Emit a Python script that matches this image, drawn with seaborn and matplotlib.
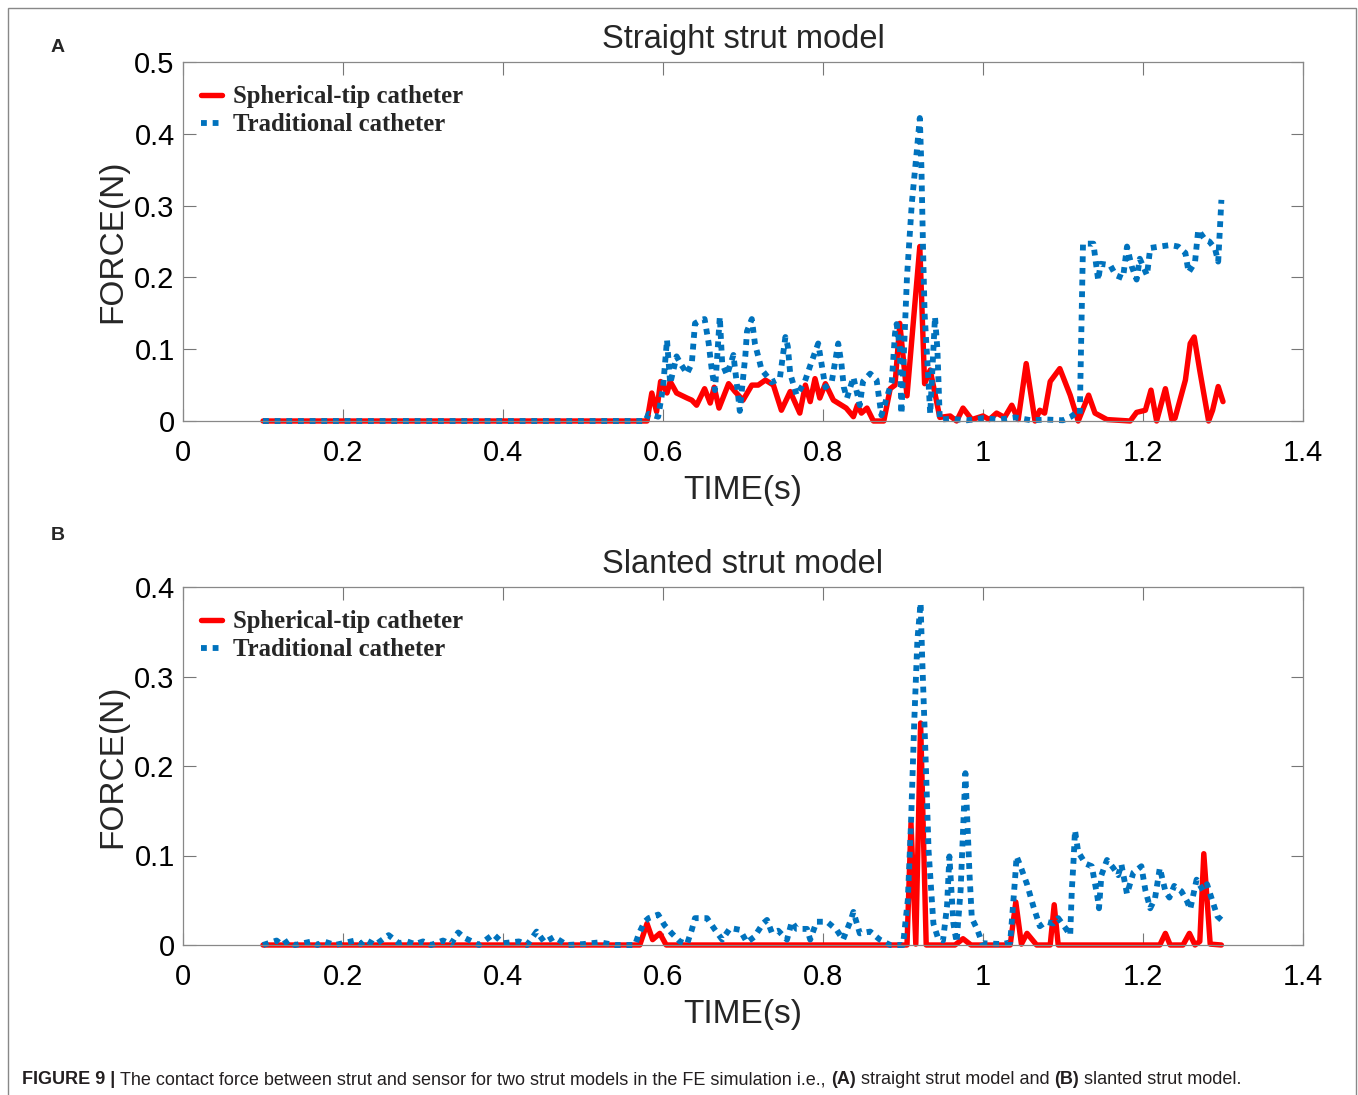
import matplotlib
matplotlib.use("Agg")
import matplotlib.pyplot as plt
from matplotlib.patches import Rectangle
from matplotlib.ticker import FuncFormatter
import seaborn as sns

# ---- data ----
# (A) straight strut model
time_a_sph = [0.10, 0.58, 0.586, 0.592, 0.597, 0.605, 0.609, 0.617, 0.630, 0.636, 0.642, 0.652,
              0.659, 0.664, 0.670, 0.682, 0.690, 0.700, 0.711, 0.719, 0.728, 0.738, 0.748, 0.759,
              0.771, 0.778, 0.784, 0.790, 0.796, 0.803, 0.813, 0.829, 0.838, 0.843, 0.848, 0.855,
              0.863, 0.876, 0.884, 0.890, 0.896, 0.905, 0.921, 0.927, 0.934, 0.946, 0.959, 0.967,
              0.975, 0.986, 1.000, 1.008, 1.017, 1.027, 1.036, 1.044, 1.054, 1.065, 1.071, 1.077,
              1.084, 1.096, 1.109, 1.119, 1.132, 1.140, 1.155, 1.184, 1.192, 1.203, 1.210, 1.217,
              1.228, 1.236, 1.240, 1.253, 1.259, 1.264, 1.271, 1.282, 1.287, 1.294, 1.300]
force_a_sph = [0, 0, 0.039, 0.013, 0.055, 0.039, 0.055, 0.039, 0.032, 0.029, 0.022, 0.045,
               0.025, 0.047, 0.018, 0.052, 0.041, 0.029, 0.050, 0.050, 0.057, 0.050, 0.015, 0.041,
               0.011, 0.050, 0.027, 0.059, 0.032, 0.052, 0.029, 0.018, 0.006, 0.022, 0.011, 0.018,
               0.0, 0.0, 0.045, 0.050, 0.136, 0.035, 0.243, 0.052, 0.071, 0.005, 0.007, 0.0,
               0.018, 0.002, 0.007, 0.002, 0.011, 0.005, 0.022, 0.002, 0.080, 0.0, 0.015, 0.011,
               0.055, 0.073, 0.036, 0.0, 0.036, 0.011, 0.002, 0.0, 0.012, 0.015, 0.043, 0.0,
               0.045, 0.002, 0.004, 0.057, 0.108, 0.117, 0.070, 0.0, 0.015, 0.048, 0.027]

time_a_trad = [0.10, 0.578, 0.582, 0.594, 0.600, 0.605, 0.609, 0.617, 0.623, 0.630, 0.636, 0.640,
               0.648, 0.652, 0.657, 0.661, 0.665, 0.671, 0.674, 0.680, 0.688, 0.693, 0.696, 0.703,
               0.705, 0.711, 0.715, 0.720, 0.723, 0.736, 0.746, 0.753, 0.756, 0.759, 0.767, 0.777,
               0.784, 0.794, 0.803, 0.811, 0.819, 0.823, 0.826, 0.830, 0.838, 0.846, 0.850, 0.859,
               0.867, 0.873, 0.886, 0.890, 0.892, 0.896, 0.898, 0.905, 0.911, 0.917, 0.921, 0.923,
               0.925, 0.927, 0.932, 0.934, 0.940, 0.943, 0.946, 0.960, 0.980, 1.000, 1.020, 1.040,
               1.060, 1.080, 1.100, 1.110, 1.117, 1.121, 1.125, 1.138, 1.144, 1.147, 1.159, 1.166,
               1.175, 1.180, 1.186, 1.192, 1.196, 1.205, 1.209, 1.221, 1.234, 1.244, 1.253, 1.257,
               1.265, 1.269, 1.278, 1.283, 1.290, 1.294, 1.298]
force_a_trad = [0, 0, 0.010, 0.006, 0.046, 0.113, 0.052, 0.090, 0.078, 0.066, 0.080, 0.136,
                0.141, 0.142, 0.109, 0.071, 0.043, 0.145, 0.080, 0.064, 0.092, 0.045, 0.014, 0.092,
                0.125, 0.142, 0.107, 0.086, 0.072, 0.054, 0.059, 0.117, 0.104, 0.066, 0.036, 0.054,
                0.077, 0.108, 0.047, 0.055, 0.108, 0.080, 0.047, 0.032, 0.061, 0.022, 0.055, 0.066,
                0.057, 0.008, 0.055, 0.122, 0.135, 0.104, 0.010, 0.201, 0.303, 0.373, 0.422, 0.354,
                0.243, 0.150, 0.052, 0.010, 0.145, 0.100, 0.002, 0.003, 0.001, 0.004, 0.002, 0.005,
                0.001, 0.002, 0.001, 0.006, 0.012, 0.010, 0.247, 0.247, 0.196, 0.219, 0.217, 0.203,
                0.199, 0.243, 0.215, 0.197, 0.226, 0.203, 0.241, 0.243, 0.245, 0.243, 0.234, 0.207,
                0.221, 0.266, 0.252, 0.250, 0.240, 0.222, 0.308]

# (B) slanted strut model
time_b_sph = [0.10, 0.571, 0.580, 0.587, 0.596, 0.604, 0.905, 0.910, 0.916, 0.922, 0.929, 0.965,
              0.975, 0.985, 1.034, 1.041, 1.048, 1.055, 1.067, 1.084, 1.089, 1.094, 1.221, 1.228,
              1.234, 1.250, 1.258, 1.265, 1.271, 1.276, 1.284, 1.298]
force_b_sph = [0, 0, 0.024, 0.006, 0.013, 0, 0, 0.136, 0.001, 0.248, 0, 0,
               0.007, 0, 0, 0.048, 0.001, 0.013, 0, 0, 0.045, 0, 0, 0.013,
               0, 0, 0.013, 0, 0.004, 0.102, 0.001, 0]

time_b_trad = [0.100, 0.117, 0.124, 0.132, 0.140, 0.161, 0.168, 0.176, 0.190, 0.215, 0.222, 0.228,
               0.240, 0.257, 0.270, 0.280, 0.290, 0.300, 0.310, 0.325, 0.335, 0.344, 0.352, 0.370,
               0.388, 0.400, 0.420, 0.430, 0.442, 0.452, 0.464, 0.480, 0.500, 0.521, 0.540, 0.565,
               0.570, 0.577, 0.582, 0.594, 0.602, 0.611, 0.621, 0.630, 0.636, 0.640, 0.655, 0.665,
               0.674, 0.684, 0.696, 0.705, 0.714, 0.725, 0.730, 0.736, 0.744, 0.755, 0.761, 0.767,
               0.780, 0.784, 0.792, 0.805, 0.817, 0.825, 0.834, 0.838, 0.846, 0.859, 0.871, 0.884,
               0.900, 0.906, 0.910, 0.914, 0.918, 0.922, 0.924, 0.928, 0.932, 0.938, 0.944, 0.950,
               0.955, 0.958, 0.963, 0.967, 0.972, 0.978, 0.983, 0.986, 0.993, 0.999, 1.025, 1.034,
               1.040, 1.042, 1.046, 1.055, 1.063, 1.071, 1.079, 1.088, 1.094, 1.103, 1.109, 1.111,
               1.113, 1.115, 1.119, 1.128, 1.136, 1.143, 1.145, 1.148, 1.155, 1.163, 1.169, 1.173,
               1.180, 1.188, 1.198, 1.203, 1.209, 1.215, 1.221, 1.228, 1.233, 1.239, 1.248, 1.255,
               1.259, 1.267, 1.275, 1.280, 1.285, 1.293, 1.298]
force_b_trad = [0, 0.005, 0.0, 0.005, 0, 0.004, 0, 0.004, 0, 0.005, 0.001, 0.006,
                0, 0.011, 0.002, 0.004, 0.001, 0.004, 0.0, 0.005, 0.001, 0.014, 0.008, 0.0,
                0.012, 0.002, 0.004, 0.0, 0.015, 0.003, 0.009, 0, 0.001, 0.003, 0, 0,
                0.013, 0.026, 0.030, 0.034, 0.022, 0.013, 0.004, 0.001, 0.017, 0.030, 0.030, 0.017,
                0.006, 0.019, 0.017, 0.003, 0.009, 0.024, 0.028, 0.014, 0.016, 0.006, 0.026, 0.018,
                0.018, 0.006, 0.026, 0.026, 0.017, 0.006, 0.026, 0.037, 0.013, 0.015, 0.006, 0,
                0, 0.050, 0.136, 0.248, 0.341, 0.382, 0.320, 0.216, 0.105, 0.024, 0.007, 0.005,
                0.043, 0.099, 0.024, 0.003, 0.061, 0.192, 0.082, 0.030, 0.017, 0.002, 0.001, 0.003,
                0.073, 0.099, 0.090, 0.068, 0.043, 0.021, 0.026, 0.024, 0.030, 0.019, 0.011, 0.061,
                0.091, 0.128, 0.104, 0.091, 0.088, 0.054, 0.041, 0.078, 0.095, 0.086, 0.078, 0.090,
                0.057, 0.081, 0.088, 0.061, 0.041, 0.052, 0.086, 0.060, 0.053, 0.066, 0.060, 0.049,
                0.040, 0.073, 0.061, 0.068, 0.054, 0.032, 0.028]

x_ticks = [0, 0.2, 0.4, 0.6, 0.8, 1.0, 1.2, 1.4]
y_ticks_a = [0, 0.1, 0.2, 0.3, 0.4, 0.5]
y_ticks_b = [0, 0.1, 0.2, 0.3, 0.4]
labels = ["Spherical-tip catheter", "Traditional catheter"]
titles = ["Straight strut model", "Slanted strut model"]

RED = "#FF0000"
BLUE = "#0072BD"

sns.set_theme(style="ticks")
plt.rcParams["font.family"] = ["Liberation Sans", "DejaVu Sans"]

W, H = 1358, 1095
fig = plt.figure(figsize=(W / 100, H / 100), dpi=100)


def px_axes(left, top, right, bottom):
    return fig.add_axes([left / W, 1 - bottom / H, (right - left) / W, (bottom - top) / H])


def fmt(v, _):
    return "%g" % round(v, 2)


panels = [
    (px_axes(183, 62, 1303, 421), time_a_sph, force_a_sph, time_a_trad, force_a_trad, y_ticks_a, 0.5),
    (px_axes(183, 587, 1303, 945), time_b_sph, force_b_sph, time_b_trad, force_b_trad, y_ticks_b, 0.4),
]

for i, (ax, ts, fs, tt, ft, yt, ymax) in enumerate(panels):
    sns.lineplot(x=ts, y=fs, ax=ax, color=RED, linewidth=3.9, label=labels[0],
                 sort=False, estimator=None, clip_on=False)
    sns.lineplot(x=tt, y=ft, ax=ax, color=BLUE, linewidth=4.2, label=labels[1],
                 sort=False, estimator=None, linestyle=(0, (1, 1)), dash_capstyle="butt",
                 clip_on=False)
    ax.set_xlim(0, 1.4)
    ax.set_ylim(0, ymax)
    ax.set_xticks(x_ticks)
    ax.set_yticks(yt)
    ax.xaxis.set_major_formatter(FuncFormatter(fmt))
    ax.yaxis.set_major_formatter(FuncFormatter(fmt))
    ax.tick_params(direction="in", length=9, width=0.8, color="#777777", labelsize=21,
                   top=True, right=True, labelcolor="black")
    ax.tick_params(axis="x", pad=13)
    ax.tick_params(axis="y", pad=6)
    for s in ax.spines.values():
        s.set_color("#888888")
        s.set_linewidth(0.9)
    ax.set_xlabel("TIME(s)", fontsize=24, labelpad=6)
    ax.set_ylabel("FORCE(N)", fontsize=24, labelpad=4)
    ax.set_title(titles[i], fontsize=23.5, pad=10)
    ax.legend(loc="upper left", bbox_to_anchor=(-0.004, 0.997), frameon=False,
              prop={"family": "Liberation Serif", "weight": "bold", "size": 17.8},
              handlelength=0.85, handletextpad=0.45, labelspacing=0.2)

# panel letters
fig.text(58 / W, 1 - 47 / H, "A", fontsize=14, fontweight="bold", ha="center", va="center")
fig.text(58 / W, 1 - 535 / H, "B", fontsize=14, fontweight="bold", ha="center", va="center")

# outer frame
fig.add_artist(Rectangle((8 / W, -0.01), (1356 - 8) / W, 1 - 8 / H + 0.01,
                         transform=fig.transFigure, fill=False, edgecolor="#888888", lw=1))

# caption with mixed weights
pieces = [("FIGURE 9 | ", "bold"),
          ("The contact force between strut and sensor for two strut models in the FE simulation i.e., ", "normal"),
          ("(A)", "bold"), (" straight strut model and ", "normal"),
          ("(B)", "bold"), (" slanted strut model.", "normal")]
renderer = fig.canvas.get_renderer()
x = 22 / W
for txt, w in pieces:
    t = fig.text(x, 1 - 1080 / H, txt, fontsize=13, fontweight=w, va="center", ha="left",
                 color="#231f20")
    bb = t.get_window_extent(renderer=renderer)
    x += bb.width / W

fig.savefig("out.png", dpi=100)
